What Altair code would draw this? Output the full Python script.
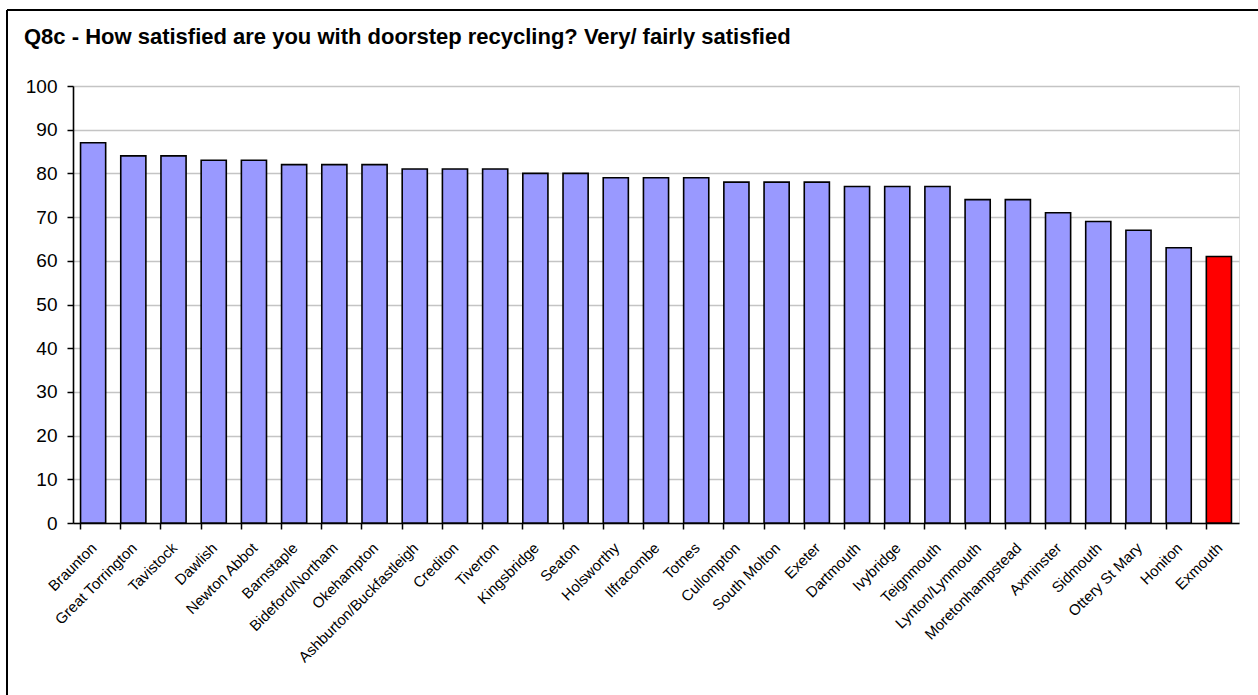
import altair as alt
import pandas as pd

# Survey results: share of residents very/fairly satisfied with doorstep recycling
towns = [
    "Braunton", "Great Torrington", "Tavistock", "Dawlish", "Newton Abbot",
    "Barnstaple", "Bideford/Northam", "Okehampton", "Ashburton/Buckfastleigh",
    "Crediton", "Tiverton", "Kingsbridge", "Seaton", "Holsworthy", "Ilfracombe",
    "Totnes", "Cullompton", "South Molton", "Exeter", "Dartmouth", "Ivybridge",
    "Teignmouth", "Lynton/Lynmouth", "Moretonhampstead", "Axminster", "Sidmouth",
    "Ottery St Mary", "Honiton", "Exmouth",
]
satisfied = [
    87, 84, 84, 83, 83,
    82, 82, 82, 81,
    81, 81, 80, 80, 79, 79,
    79, 78, 78, 78, 77, 77,
    77, 74, 74, 71, 69,
    67, 63, 61,
]
highlight_town = "Exmouth"
y_ticks = list(range(0, 101, 10))

df = pd.DataFrame({"town": towns, "pct": satisfied})
df["group"] = ["focus" if t == highlight_town else "other" for t in towns]

W, H = 1166, 437
PAD_L, PAD_T = 73, 86

bars = alt.Chart(df).mark_bar(stroke="black", strokeWidth=1.6).encode(
    x=alt.X(
        "town:N",
        sort=towns,
        title=None,
        scale=alt.Scale(paddingInner=0.375, paddingOuter=0.1875),
        axis=alt.Axis(
            labelAngle=315,
            labelFontSize=15,
            labelFont="Liberation Sans",
            labelColor="black",
            labelPadding=11,
            labelOffset=-4,
            bandPosition=0,
            tickSize=6,
            tickColor="black",
            tickWidth=1.5,
            domainColor="black",
            domainWidth=1.6,
            grid=False,
        ),
    ),
    y=alt.Y(
        "pct:Q",
        title=None,
        scale=alt.Scale(domain=[0, 100], nice=False),
        axis=alt.Axis(
            values=y_ticks,
            labelFontSize=19,
            labelFont="Liberation Sans",
            labelColor="black",
            labelPadding=10,
            tickSize=6,
            tickColor="black",
            tickWidth=1.5,
            domainColor="black",
            domainWidth=1.6,
            gridColor="#c4c4c4",
            gridWidth=1.6,
        ),
    ),
    color=alt.Color(
        "group:N",
        scale=alt.Scale(domain=["other", "focus"], range=["#9999ff", "#ff0000"]),
        legend=None,
    ),
)

# Outer frame of the chart area (left and top edges)
frame_left = alt.Chart(df).mark_rule(color="black", strokeWidth=1.6).encode(
    x=alt.value(7 - PAD_L), y=alt.value(10 - PAD_T), y2=alt.value(720)
)
frame_top = alt.Chart(df).mark_rule(color="black", strokeWidth=1.6).encode(
    x=alt.value(7 - PAD_L), x2=alt.value(1300), y=alt.value(10 - PAD_T)
)

chart = (
    alt.layer(bars, frame_left, frame_top)
    .properties(
        width=W,
        height=H,
        autosize=alt.AutoSizeParams(type="none"),
        padding={"left": PAD_L, "top": PAD_T, "right": 1258 - PAD_L - W, "bottom": 695 - PAD_T - H},
        title=alt.TitleParams(
            "Q8c - How satisfied are you with doorstep recycling? Very/ fairly satisfied",
            anchor="start",
            frame="group",
            dx=24 - PAD_L,
            offset=30,
            dy=70,
            fontSize=22,
            font="Liberation Sans",
            fontWeight="bold",
            color="black",
        ),
    )
    .configure_view(stroke="#808080", strokeWidth=1.6)
    .configure(background="white")
)

chart.save("out.html", embed_options={"renderer": "svg", "actions": False})
